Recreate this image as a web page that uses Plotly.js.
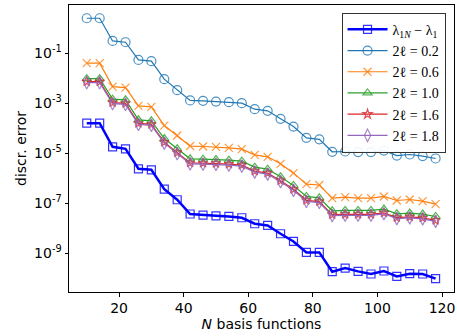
<!DOCTYPE html>
<html>
<head>
<meta charset="utf-8">
<script src="https://cdn.plot.ly/plotly-3.0.1.min.js"></script>
<style>html,body{margin:0;padding:0;background:#fff;}#chart{width:457px;height:336px;}</style>
</head>
<body>
<div id="chart"></div>
<script>
const N = [10,14,18,22,26,30,34,38,42,46,50,54,58,62,66,70,74,78,82,86,90,94,98,102,106,110,114,118];

const lamDiff = [1.58e-4,1.58e-4,1.79e-5,1.49e-5,2.36e-6,2.15e-6,3.63e-7,1.36e-7,3.66e-8,3.31e-8,3.10e-8,2.91e-8,2.58e-8,1.49e-8,1.27e-8,5.92e-9,2.91e-9,1.06e-9,1.06e-9,1.79e-10,2.51e-10,1.84e-10,1.45e-10,1.91e-10,1.16e-10,1.49e-10,1.45e-10,9.4e-11];
const err02 = [2.51,2.51,0.310,0.275,0.054,0.048,9.1e-3,3.3e-3,1.29e-3,1.24e-3,1.16e-3,1.10e-3,1.0e-3,5.75e-4,4.92e-4,2.36e-4,1.16e-4,4.09e-5,3.56e-5,1.13e-5,1.16e-5,1.10e-5,1.10e-5,1.27e-5,8.0e-6,8.8e-6,7.6e-6,6.1e-6];
const err06 = [0.0398,0.0398,4.61e-3,4.21e-3,7.8e-4,7.1e-4,1.27e-4,5.06e-5,1.92e-5,1.84e-5,1.79e-5,1.63e-5,1.45e-5,8.55e-6,7.11e-6,3.73e-6,1.58e-6,5.75e-7,5.30e-7,1.58e-7,1.74e-7,1.58e-7,1.58e-7,1.84e-7,1.27e-7,1.39e-7,1.20e-7,9.1e-8];
const err10 = [9.6e-3,9.6e-3,1.45e-3,1.36e-3,2.15e-4,1.96e-4,3.84e-5,1.49e-5,5.9e-6,5.75e-6,5.55e-6,5.25e-6,4.79e-6,2.75e-6,2.29e-6,1.13e-6,5.06e-7,1.84e-7,1.63e-7,4.92e-8,5.06e-8,5.06e-8,5.06e-8,5.75e-8,3.73e-8,3.98e-8,3.63e-8,2.91e-8];
const err16 = [7.24e-3,7.24e-3,1.05e-3,9.8e-4,1.55e-4,1.41e-4,2.75e-5,1.05e-5,4.07e-6,3.98e-6,3.89e-6,3.63e-6,3.31e-6,1.91e-6,1.58e-6,7.9e-7,3.55e-7,1.29e-7,1.15e-7,3.47e-8,3.55e-8,3.55e-8,3.55e-8,4.07e-8,2.63e-8,2.82e-8,2.57e-8,2.04e-8];
const err18 = [6.61e-3,6.61e-3,9.5e-4,8.9e-4,1.41e-4,1.29e-4,2.51e-5,9.5e-6,3.72e-6,3.63e-6,3.55e-6,3.31e-6,3.02e-6,1.74e-6,1.45e-6,7.2e-7,3.24e-7,1.17e-7,1.05e-7,3.16e-8,3.24e-8,3.24e-8,3.24e-8,3.72e-8,2.40e-8,2.57e-8,2.34e-8,1.86e-8];

const seriesNames = ["λ<sub>1<i>N</i></sub> − λ<sub>1</sub>","2ℓ = 0.2","2ℓ = 0.6","2ℓ = 1.0","2ℓ = 1.6","2ℓ = 1.8"];
const yTickVals = [1e-1,1e-3,1e-5,1e-7,1e-9];
const yTickText = ["10<sup>-1</sup>","10<sup>-3</sup>","10<sup>-5</sup>","10<sup>-7</sup>","10<sup>-9</sup>"];
const xTickVals = [20,40,60,80,100,120];

const ys = [lamDiff, err02, err06, err10, err16, err18];
const colors = ["#0000ff","#1f77b4","#ff7f0e","#2ca02c","#d62728","#9467bd"];
const symbols = ["square-open","circle-open","x-thin-open","triangle-up-open","star-open","diamond-tall-open"];
const widths = [2.5,1.2,1.2,1.2,1.2,1.2];
const msizes = [8,9,8,8,7,9];

const traces = ys.map((y,i)=>({
  x: N, y: y, name: seriesNames[i], type: 'scatter', mode: 'lines+markers',
  line: {color: colors[i], width: widths[i]},
  marker: {symbol: symbols[i], size: msizes[i], color: colors[i], line: {color: colors[i], width: 1.2}, opacity: 0.8}
}));

const layout = {
  width: 457, height: 336,
  margin: {l: 69, r: 3, t: 5, b: 44},
  paper_bgcolor: '#fff', plot_bgcolor: '#fff',
  font: {family: 'DejaVu Sans', size: 14, color: '#000'},
  showlegend: true,
  legend: {
    x: 0.978, y: 0.973, xanchor: 'right', yanchor: 'top',
    bgcolor: 'rgba(255,255,255,0.9)', bordercolor: '#333', borderwidth: 1,
    font: {family: 'Liberation Serif', size: 14, color: '#000'},
    itemwidth: 40,
    tracegroupgap: 0
  },
  xaxis: {
    range: [4.5, 123.7], tickvals: xTickVals, ticks: 'outside', ticklen: 3.5, tickwidth: 1, tickcolor: '#000',
    showgrid: false, zeroline: false, showline: true, linecolor: '#000', linewidth: 1, mirror: true,
    title: {text: '<i>N</i> basis functions', font: {size: 14}, standoff: 2}
  },
  yaxis: {
    type: 'log', range: [-10.56, 0.93], tickmode: 'array', tickvals: yTickVals, ticktext: yTickText,
    ticks: 'outside', ticklen: 3.5, tickwidth: 1, tickcolor: '#000',
    showgrid: false, zeroline: false, showline: true, linecolor: '#000', linewidth: 1, mirror: true,
    title: {text: 'discr. error', font: {size: 14}, standoff: 4}
  }
};

Plotly.newPlot('chart', traces, layout, {displayModeBar: false, staticPlot: true});
</script>
</body>
</html>
